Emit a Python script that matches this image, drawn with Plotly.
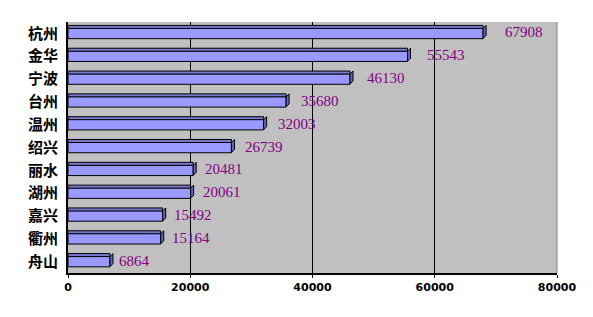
import plotly.graph_objects as go

cities = ["杭州", "金华", "宁波", "台州", "温州", "绍兴", "丽水", "湖州", "嘉兴", "衢州", "舟山"]
values = [67908, 55543, 46130, 35680, 32003, 26739, 20481, 20061, 15492, 15164, 6864]
x_ticks = [0, 20000, 40000, 60000, 80000]

idx = list(range(len(cities)))

fig = go.Figure()
fig.add_trace(go.Bar(
    y=idx, x=values, orientation="h",
    marker=dict(color="#9999FF", line=dict(color="#000000", width=1)),
    width=0.46, showlegend=False, hoverinfo="x+y",
))

shapes = []
for i, v in zip(idx, values):
    # right side face (3D depth)
    shapes.append(dict(
        type="path", xref="x", yref="y",
        xsizemode="pixel", ysizemode="pixel", xanchor=v, yanchor=i,
        path="M0,-5 L3,-2 L3,8 L0,5 Z",
        fillcolor="#6666B3", line=dict(color="#000000", width=1), layer="above",
    ))
    # top face
    shapes.append(dict(
        type="rect", xref="x", yref="y",
        ysizemode="pixel", yanchor=i, x0=0, x1=v, y0=5, y1=8,
        fillcolor="#7777CC", line=dict(color="#000000", width=1), layer="above",
    ))

# back-wall edge on the right
shapes.append(dict(
    type="line", xref="paper", yref="paper", x0=1, x1=1, y0=0, y1=1,
    line=dict(color="#808080", width=1), layer="above",
))

annotations = []
for i, v in zip(idx, values):
    annotations.append(dict(
        x=v, y=i, xref="x", yref="y", text=str(v), showarrow=False,
        xanchor="left", yanchor="middle", xshift=6 + v / 5000, yshift=1,
        font=dict(family="Liberation Serif, serif", size=15, color="#800080"),
    ))

fig.update_layout(
    width=593, height=317,
    margin=dict(l=68, r=36, t=22, b=44),
    paper_bgcolor="#FFFFFF", plot_bgcolor="#C0C0C0",
    shapes=shapes, annotations=annotations,
    bargap=0.5,
    xaxis=dict(
        range=[0, 80000], tickvals=x_ticks, ticktext=[str(t) for t in x_ticks],
        showgrid=True, gridcolor="#000000", gridwidth=1,
        showline=True, linecolor="#000000", linewidth=2,
        ticks="outside", ticklen=3, tickcolor="#000000",
        tickfont=dict(family="DejaVu Sans, sans-serif", size=11, color="#000000", weight="bold"),
        zeroline=False, mirror=False,
    ),
    yaxis=dict(
        range=[len(cities) - 0.5, -0.5], tickvals=idx, ticktext=cities,
        showgrid=False, showline=True, linecolor="#000000", linewidth=2,
        ticks="", ticklabelstandoff=5,
        tickfont=dict(family="Noto Sans CJK SC, sans-serif", size=15, color="#000000", weight="bold"),
        zeroline=False,
    ),
)

fig.write_html("out.html")
